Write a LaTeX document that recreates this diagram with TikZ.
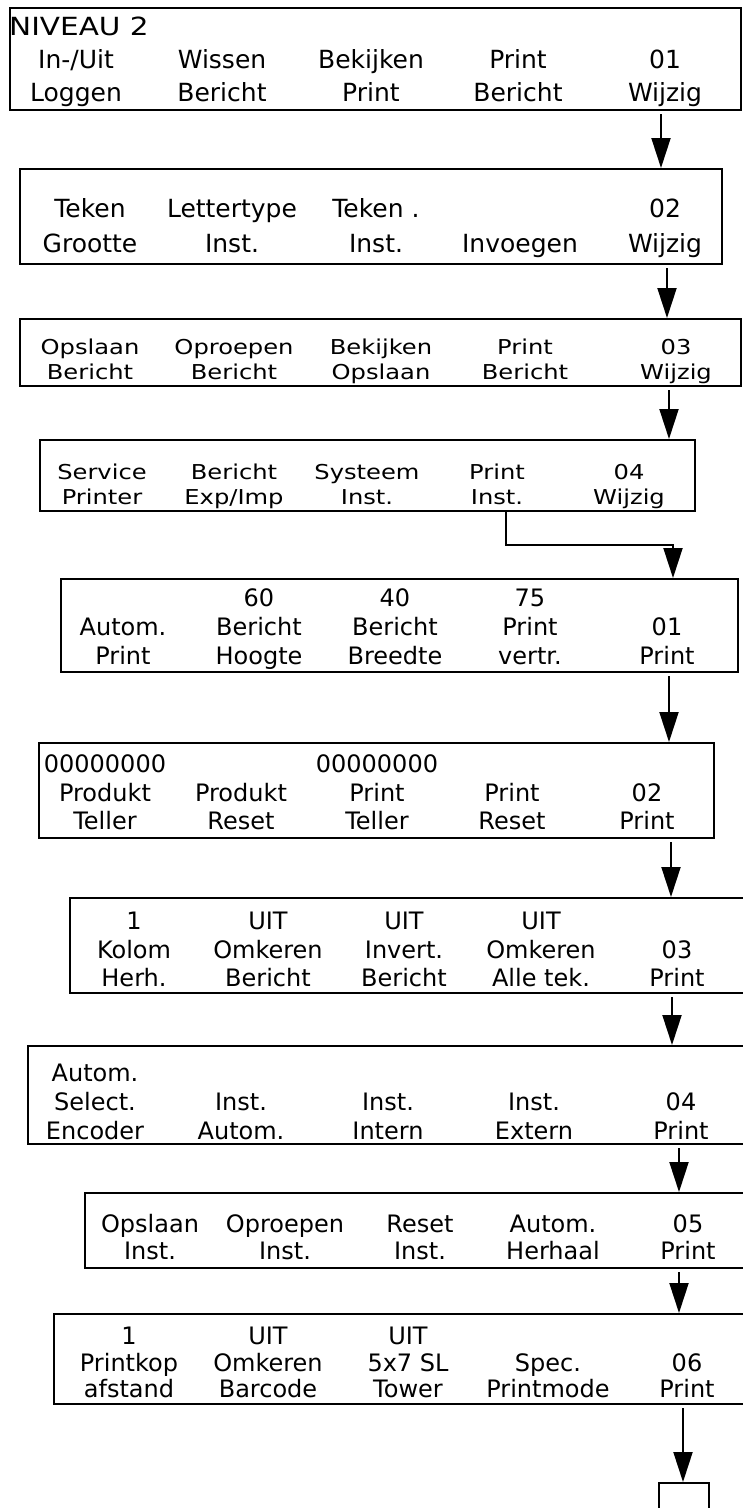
\documentclass[tikz,border=0pt]{standalone}
\usepackage{fontspec}
\setmainfont{DejaVu Sans}
\newfontfamily\lcdwide{DejaVu Sans}[FakeStretch=1.18]
\usetikzlibrary{arrows.meta}

\begin{document}
\begin{tikzpicture}[x=1pt,y=-1pt,
  box/.style={draw,line width=2.3pt,inner sep=0pt,anchor=north west},
  arr/.style={-{Triangle[length=30pt,width=19pt]},line width=2pt,shorten <=3pt},
  lbl/.style={anchor=south,inner sep=0pt,align=center}]
\useasboundingbox (0,0) rectangle (742,1508);
% menu screens
\node[box,minimum width=731pt,minimum height=102pt] (b1) at (9,7) {};
\node[box,minimum width=702pt,minimum height=95pt] (b2) at (19,168) {};
\node[box,minimum width=721pt,minimum height=67pt] (b3) at (19,318) {};
\node[box,minimum width=655pt,minimum height=71pt] (b4) at (39,439) {};
\node[box,minimum width=677pt,minimum height=93pt] (b5) at (60,578) {};
\node[box,minimum width=675pt,minimum height=95pt] (b6) at (38,742) {};
\node[box,minimum width=681pt,minimum height=95pt] (b7) at (69,897) {};
\node[box,minimum width=723pt,minimum height=98pt] (b8) at (27,1045) {};
\node[box,minimum width=666pt,minimum height=75pt] (b9) at (84,1192) {};
\node[box,minimum width=697pt,minimum height=90pt] (b10) at (53,1313) {};
\node[box,minimum width=50pt,minimum height=45pt] (b11) at (658,1482) {};
% arrow columns
\coordinate (k1) at (661,0);
\coordinate (k2) at (667,0);
\coordinate (k3) at (669,0);
\coordinate (k4) at (506,0);
\coordinate (j4) at (673,545);
\coordinate (k5) at (669,0);
\coordinate (k6) at (671,0);
\coordinate (k7) at (672,0);
\coordinate (k8) at (679,0);
\coordinate (k9) at (679,0);
\coordinate (k10) at (683,0);
\draw[arr] (b1.south -| k1) -- (b2.north -| k1);
\draw[arr] (b2.south -| k2) -- (b3.north -| k2);
\draw[arr] (b3.south -| k3) -- (b4.north -| k3);
\draw[arr,shorten <=0pt] (b4.south -| k4) |- (j4) -- (b5.north -| j4);
\draw[arr] (b5.south -| k5) -- (b6.north -| k5);
\draw[arr] (b6.south -| k6) -- (b7.north -| k6);
\draw[arr] (b7.south -| k7) -- (b8.north -| k7);
\draw[arr] (b8.south -| k8) -- (b9.north -| k8);
\draw[arr] (b9.south -| k9) -- (b10.north -| k9);
\draw[arr] (b10.south -| k10) -- (b11.north -| k10);

\begin{scope}[font=\fontsize{25}{33.5}\selectfont]
  \node[anchor=base west,inner sep=0pt,font=\lcdwide\fontsize{25}{30}\selectfont] (lvl) at (9,35) {NIVEAU 2};
  \node[lbl] (t11) at (76,112) {In-/Uit\\Loggen\strut};
  \node[lbl] (t12) at (222,112) {Wissen\\Bericht\strut};
  \node[lbl] (t13) at (371,112) {Bekijken\\Print\strut};
  \node[lbl] (t14) at (518,112) {Print\\Bericht\strut};
  \node[lbl] (t15) at (665,112) {01\\Wijzig\strut};
\end{scope}
\begin{scope}[font=\fontsize{25}{35}\selectfont]
  \node[lbl] (t21) at (90,263.5) {Teken\\Grootte\strut};
  \node[lbl] (t22) at (232,263.5) {Lettertype\\Inst.\strut};
  \node[lbl] (t23) at (376,263.5) {Teken .\\Inst.\strut};
  \node[lbl] (t24) at (520,263.5) {Invoegen\strut};
  \node[lbl] (t25) at (665,263.5) {02\\Wijzig\strut};
\end{scope}
\begin{scope}[font=\lcdwide\fontsize{20.5}{25}\selectfont]
  \node[lbl] (t31) at (90,387.5) {Opslaan\\Bericht\strut};
  \node[lbl] (t32) at (234,387.5) {Oproepen\\Bericht\strut};
  \node[lbl] (t33) at (381,387.5) {Bekijken\\Opslaan\strut};
  \node[lbl] (t34) at (525,387.5) {Print\\Bericht\strut};
  \node[lbl] (t35) at (676,387.5) {03\\Wijzig\strut};
  \node[lbl] (t41) at (102,512.5) {Service\\Printer\strut};
  \node[lbl] (t42) at (234,512.5) {Bericht\\Exp/Imp\strut};
  \node[lbl] (t43) at (367,512.5) {Systeem\\Inst.\strut};
  \node[lbl] (t44) at (497,512.5) {Print\\Inst.\strut};
  \node[lbl] (t45) at (629,512.5) {04\\Wijzig\strut};
\end{scope}
\begin{scope}[font=\fontsize{24}{29}\selectfont]
  \node[lbl] (t51) at (123,673.7) {Autom.\\Print\strut};
  \node[lbl] (t52) at (259,673.7) {60\\Bericht\\Hoogte\strut};
  \node[lbl] (t53) at (395,673.7) {40\\Bericht\\Breedte\strut};
  \node[lbl] (t54) at (530,673.7) {75\\Print\\vertr.\strut};
  \node[lbl] (t55) at (667,673.7) {01\\Print\strut};
\end{scope}
\begin{scope}[font=\fontsize{24}{28.5}\selectfont]
  \node[lbl] (t61) at (105,838.5) {00000000\\Produkt\\Teller\strut};
  \node[lbl] (t62) at (241,838.5) {Produkt\\Reset\strut};
  \node[lbl] (t63) at (377,838.5) {00000000\\Print\\Teller\strut};
  \node[lbl] (t64) at (512,838.5) {Print\\Reset\strut};
  \node[lbl] (t65) at (647,838.5) {02\\Print\strut};
  \node[lbl] (t71) at (134,995.5) {1\\Kolom\\Herh.\strut};
  \node[lbl] (t72) at (268,995.5) {UIT\\Omkeren\\Bericht\strut};
  \node[lbl] (t73) at (404,995.5) {UIT\\Invert.\\Bericht\strut};
  \node[lbl] (t74) at (541,995.5) {UIT\\Omkeren\\Alle tek.\strut};
  \node[lbl] (t75) at (677,995.5) {03\\Print\strut};
\end{scope}
\begin{scope}[font=\fontsize{24}{29}\selectfont]
  \node[lbl] (t81) at (95,1148.7) {Autom.\\Select.\\Encoder\strut};
  \node[lbl] (t82) at (241,1148.7) {Inst.\\Autom.\strut};
  \node[lbl] (t83) at (388,1148.7) {Inst.\\Intern\strut};
  \node[lbl] (t84) at (534,1148.7) {Inst.\\Extern\strut};
  \node[lbl] (t85) at (681,1148.7) {04\\Print\strut};
\end{scope}
\begin{scope}[font=\fontsize{24}{27}\selectfont]
  \node[lbl] (t91) at (150,1268.1) {Opslaan\\Inst.\strut};
  \node[lbl] (t92) at (285,1268.1) {Oproepen\\Inst.\strut};
  \node[lbl] (t93) at (420,1268.1) {Reset\\Inst.\strut};
  \node[lbl] (t94) at (553,1268.1) {Autom.\\Herhaal\strut};
  \node[lbl] (t95) at (688,1268.1) {05\\Print\strut};
\end{scope}
\begin{scope}[font=\fontsize{24}{26.5}\selectfont]
  \node[lbl] (t101) at (129,1406) {1\\Printkop\\afstand\strut};
  \node[lbl] (t102) at (268,1406) {UIT\\Omkeren\\Barcode\strut};
  \node[lbl] (t103) at (408,1406) {UIT\\5x7 SL\\Tower\strut};
  \node[lbl] (t104) at (548,1406) {Spec.\\Printmode\strut};
  \node[lbl] (t105) at (687,1406) {06\\Print\strut};
\end{scope}
\end{tikzpicture}
\end{document}
